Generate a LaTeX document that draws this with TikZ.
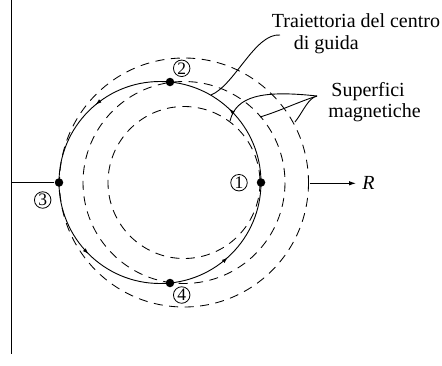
\documentclass[tikz,border=0pt]{standalone}
\usepackage{fontspec}
\setmainfont{Liberation Serif}
\usetikzlibrary{arrows.meta,decorations.markings}
\begin{document}
\begin{tikzpicture}[x=1pt,y=-1pt,
  line width=0.9pt,
  surface/.style={draw, dash pattern=on 9pt off 6.5pt, line width=0.85pt},
  orbit/.style={draw, line width=0.9pt, postaction=decorate,
    decoration={markings,
      mark=at position 0.13 with {\arrow{Latex[length=6pt,width=4pt]}},
      mark=at position 0.36 with {\arrow{Latex[length=6pt,width=4pt]}},
      mark=at position 0.625 with {\arrow{Latex[length=6pt,width=4pt]}},
      mark=at position 0.867 with {\arrow{Latex[length=6pt,width=4pt]}}}},
  dot/.style={circle, fill=black, inner sep=0pt, minimum size=8.5pt},
  num/.style={circle, draw, line width=0.8pt, inner sep=0pt, minimum size=16.5pt,
    font=\fontsize{17.5}{18}\selectfont},
  lbl/.style={inner sep=0pt, anchor=base west, font=\fontsize{20}{22}\selectfont},
  leader/.style={draw, line width=0.9pt}
]
\useasboundingbox (0,0) rectangle (442,365);

% vertical axis
\coordinate (axtop) at (11.7,0);
\coordinate (axbot) at (11.7,354);
\coordinate (axmid) at (11.7,182.5);
\draw (axtop) -- (axbot);

% magnetic surfaces
\draw[surface] (184,182.5) circle[radius=76];
\draw[surface] (184,182.5) circle[radius=101];
\draw[surface] (184,182.5) circle[radius=124.5];

% guiding centre trajectory (counterclockwise on screen)
\draw[orbit] (261,182.5) arc[start angle=0, end angle=-360, radius=101];

% points
\node[dot] (p1) at (261,182.5) {};
\node[dot] (p2) at (170,82) {};
\node[dot] (p3) at (59,182.5) {};
\node[dot] (p4) at (170,283) {};

\draw (axmid) -- (p3);

% circled numbers
\node[num] (n1) at (239,182.7) {1};
\node[num] (n2) at (181.7,68.3) {2};
\node[num] (n3) at (42.7,200) {3};
\node[num] (n4) at (181.7,295) {4};

% R axis
\coordinate (Rstart) at (309.5,183.3);
\node[inner sep=0pt, anchor=west, font=\fontsize{20}{22}\selectfont] (Rlbl) at (362,183.3) {\textit{R}};
\draw[-{Latex[length=7pt,width=4.5pt]}] (Rstart) -- ([xshift=-6pt]Rlbl.west);

% labels
\node[lbl] (t1) at (271.5,27.3) {Traiettoria del centro};
\node[lbl] (t2) at (293.3,49) {di guida};
\node[lbl] (s1) at (331,96.7) {Superfici};
\node[lbl] (s2) at (328,117.5) {magnetiche};

% leaders
\coordinate (tipT) at (280,35);
\coordinate (endT) at (211,95);
\draw[leader] (tipT) .. controls (255,33) and (235,85) .. (endT);

\coordinate (tipS) at (317,96);
\coordinate (endS1) at (230,121);
\coordinate (endS2) at (260,117);
\coordinate (endS3) at (295,122);
\draw[leader] (tipS) .. controls (262,90) and (236,96) .. (endS1);
\draw[leader] (tipS) .. controls (298,102) and (280,111) .. (endS2);
\draw[leader] (tipS) .. controls (308,98) and (303,112) .. (endS3);
\end{tikzpicture}
\end{document}
